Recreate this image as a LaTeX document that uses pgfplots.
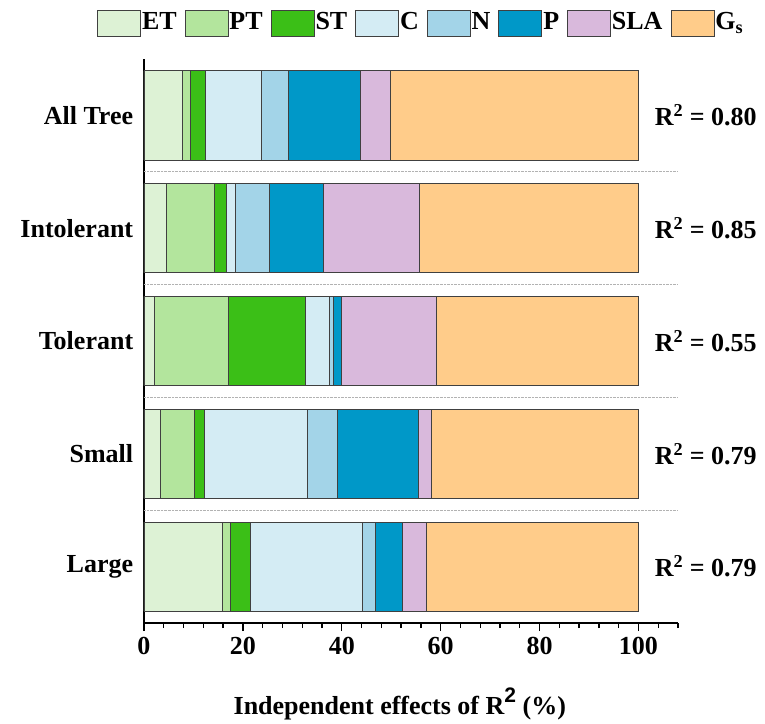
\documentclass[border=0pt]{standalone}
\usepackage{pgfplots}
\pgfplotsset{compat=1.18}
\usepackage{fontspec}
\setmainfont{Liberation Serif}
\newfontfamily\sansf{Liberation Sans}
\definecolor{cET}{HTML}{DDF2D5}
\definecolor{cPT}{HTML}{B3E59D}
\definecolor{cST}{HTML}{3BBF17}
\definecolor{cC}{HTML}{D4ECF4}
\definecolor{cN}{HTML}{A3D4E8}
\definecolor{cP}{HTML}{0098C8}
\definecolor{cSLA}{HTML}{D9B9DC}
\definecolor{cGs}{HTML}{FFCC8A}
\begin{document}
\fontsize{26bp}{31bp}\selectfont\bfseries
\begin{tikzpicture}
\begin{axis}[
  at={(0,0)}, anchor=south west,
  scale only axis, width=534bp, height=564bp,
  xbar stacked, bar width=0.79,
  xmin=0, xmax=108, ymin=-0.5, ymax=4.5,
  axis x line*=bottom, axis y line*=left,
  axis line style={-, line width=1.4bp, black},
  every tick/.style={black, line width=1.3bp},
  major tick length=8bp, minor tick length=5bp,
  tick align=outside,
  xtick={0,20,...,100}, minor xtick={0,4,...,108},
  xticklabel style={yshift=3bp},
  ytick={0,...,4},
  yticklabels={Large, Small, Tolerant, Intolerant, All Tree},
  yticklabel style={xshift=6bp},
  ytick style={draw=none},
  minor ytick={4.5},
  minor y tick style={xshift=2.5bp},
  extra y ticks={0.5,1.5,2.5,3.5},
  extra y tick labels={},
  extra y tick style={grid=major, major grid style={densely dotted, black!30, line width=0.7bp}, tick style={xshift=4bp, draw=black}},
  /pgf/number format/assume math mode=true,
  every axis plot/.append style={draw=black!75, line width=0.8bp},
  xlabel={Independent effects of R\raisebox{0.45em}{\sansf\fontsize{21bp}{21bp}\selectfont 2} (\%)},
  xlabel style={at={(axis description cs:0.479,0)}, anchor=base, yshift=-91bp},
  legend columns=8,
  legend image code/.code={\draw[#1] (0bp,-13bp) rectangle (43bp,13bp);},
  legend style={at={(axis description cs:-0.088,1.064)}, anchor=west, draw=none, fill=none, inner sep=0pt,
    nodes={inner sep=1bp}, /tikz/every even column/.append style={column sep=7bp}},
  clip=false,
]
\addplot[fill=cET] coordinates {(7.8,4) (4.5,3) (2.2,2) (3.4,1) (15.9,0)};
\addplot[fill=cPT] coordinates {(1.6,4) (9.8,3) (14.8,2) (6.8,1) (1.5,0)};
\addplot[fill=cST] coordinates {(3.0,4) (2.3,3) (15.7,2) (2.0,1) (4.2,0)};
\addplot[fill=cC] coordinates {(11.4,4) (1.9,3) (4.8,2) (20.9,1) (22.6,0)};
\addplot[fill=cN] coordinates {(5.4,4) (6.8,3) (0.8,2) (6.1,1) (2.5,0)};
\addplot[fill=cP] coordinates {(14.6,4) (11.0,3) (1.7,2) (16.3,1) (5.5,0)};
\addplot[fill=cSLA] coordinates {(6.0,4) (19.3,3) (19.1,2) (2.6,1) (5.0,0)};
\addplot[fill=cGs] coordinates {(50.2,4) (44.4,3) (40.9,2) (41.9,1) (42.8,0)};
\legend{ET, PT, ST, C, N, P, SLA, G\textsubscript{s}}
\node[anchor=west, inner sep=0pt] at (axis cs:103.3,4) {R\textsuperscript{2} = 0.80};
\node[anchor=west, inner sep=0pt] at (axis cs:103.3,3) {R\textsuperscript{2} = 0.85};
\node[anchor=west, inner sep=0pt] at (axis cs:103.3,2) {R\textsuperscript{2} = 0.55};
\node[anchor=west, inner sep=0pt] at (axis cs:103.3,1) {R\textsuperscript{2} = 0.79};
\node[anchor=west, inner sep=0pt] at (axis cs:103.3,0) {R\textsuperscript{2} = 0.79};
\end{axis}
\pgfresetboundingbox
\path[use as bounding box] (-144bp,-101bp) rectangle (621bp,623bp);
\end{tikzpicture}
\end{document}
